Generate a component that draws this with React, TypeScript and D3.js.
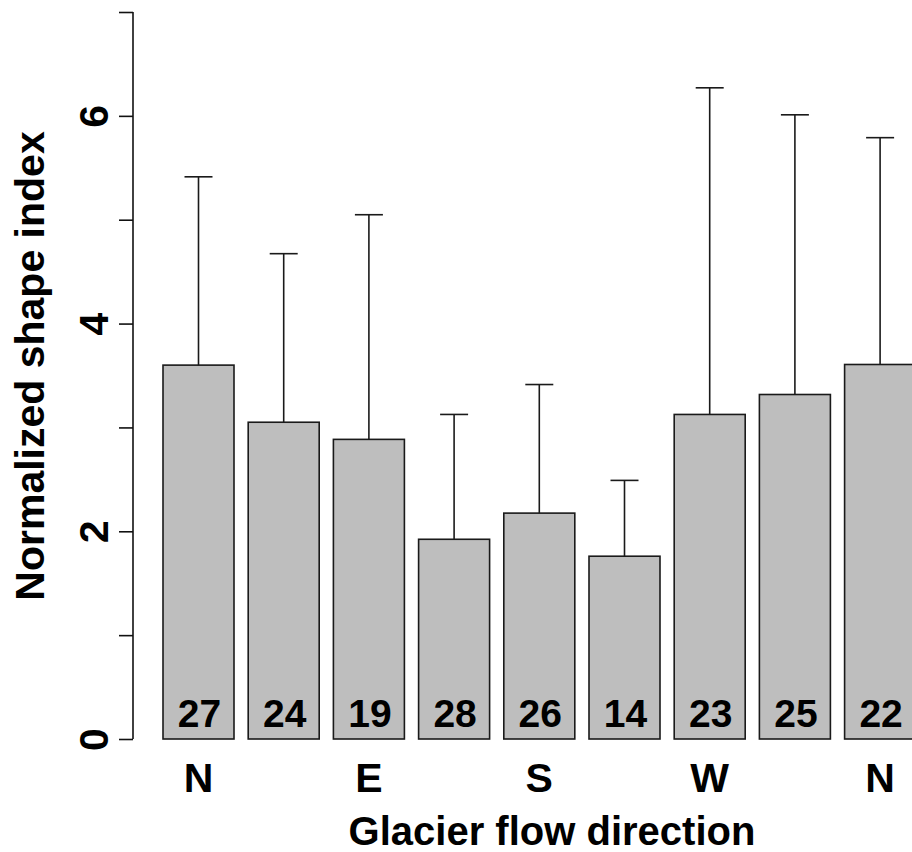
import React, { useEffect, useRef } from 'react';
import { scaleLinear, axisLeft, select, range } from 'd3';

// glacier flow direction sectors (N .. N, going round)
const sectors = ['N', 'NE', 'E', 'SE', 'S', 'SW', 'W', 'NW', 'N2'];
const axisLabels = ['N', '', 'E', '', 'S', '', 'W', '', 'N'];
const meanIndex = [3.6, 3.05, 2.885, 1.923, 2.175, 1.76, 3.125, 3.317, 3.606];
const upperError = [5.413, 4.673, 5.048, 3.125, 3.413, 2.49, 6.27, 6.01, 5.79];
const counts = [27, 24, 19, 28, 26, 14, 23, 25, 22];
const yTicks = [0, 1, 2, 3, 4, 5, 6, 7];

const W = 912;
const H = 852;
const FONT = '"Liberation Sans", Arial, Helvetica, sans-serif';

export default function App() {
  const ref = useRef<SVGSVGElement | null>(null);

  useEffect(() => {
    const svg = select(ref.current);
    svg.selectAll('*').remove();

    // barplot style coordinates: bar i spans [0.2 + 1.2i, 1.2 + 1.2i]
    const x = scaleLinear().domain([0.2, 1.2]).range([163, 234]);
    const y = scaleLinear().domain([0, 7]).range([739, 12]);
    const left = (i: number) => 0.2 + 1.2 * i;
    const mid = (i: number) => left(i) + 0.5;

    // y axis
    const yAxis = axisLeft(y)
      .tickValues(yTicks)
      .tickSize(14)
      .tickPadding(12)
      .tickFormat((d: any) => (d % 2 === 0 && d < 7 ? String(d) : ''));

    const ga = svg.append('g').attr('transform', 'translate(133,0)').call(yAxis);
    ga.select('.domain').attr('d', `M0,${y(0)}V${y(7)}`).attr('stroke', '#111').attr('stroke-width', 1.6);
    ga.selectAll('.tick line').attr('stroke', '#111').attr('stroke-width', 1.6);
    ga.selectAll('.tick text')
      .attr('x', null)
      .attr('dy', null)
      .attr('transform', 'translate(-25,0) rotate(-90)')
      .attr('text-anchor', 'middle')
      .attr('font-family', FONT)
      .attr('font-weight', 'bold')
      .attr('font-size', 41)
      .attr('fill', '#000');

    // bars
    svg.append('g')
      .selectAll('rect')
      .data(meanIndex)
      .enter()
      .append('rect')
      .attr('x', (_, i) => x(left(i)))
      .attr('y', (d) => y(d))
      .attr('width', x(1.2) - x(0.2))
      .attr('height', (d) => y(0) - y(d))
      .attr('fill', '#bebebe')
      .attr('stroke', '#1a1a1a')
      .attr('stroke-width', 1.6);

    // error bars (upper only)
    const capHalf = 14;
    const eb = svg.append('g').attr('stroke', '#1a1a1a').attr('stroke-width', 1.6);
    eb.selectAll('line.v')
      .data(upperError)
      .enter()
      .append('line')
      .attr('class', 'v')
      .attr('x1', (_, i) => x(mid(i)))
      .attr('x2', (_, i) => x(mid(i)))
      .attr('y1', (_, i) => y(meanIndex[i]))
      .attr('y2', (d) => y(d));
    eb.selectAll('line.c')
      .data(upperError)
      .enter()
      .append('line')
      .attr('class', 'c')
      .attr('x1', (_, i) => x(mid(i)) - capHalf)
      .attr('x2', (_, i) => x(mid(i)) + capHalf)
      .attr('y1', (d) => y(d))
      .attr('y2', (d) => y(d));

    // sample counts inside bars
    svg.append('g')
      .selectAll('text')
      .data(counts)
      .enter()
      .append('text')
      .attr('x', (_, i) => x(mid(i)) + 1)
      .attr('y', 727)
      .attr('text-anchor', 'middle')
      .attr('font-family', FONT)
      .attr('font-weight', 'bold')
      .attr('font-size', 39)
      .text((d) => d);

    // x direction labels
    svg.append('g')
      .selectAll('text')
      .data(range(sectors.length))
      .enter()
      .append('text')
      .attr('x', (i) => x(mid(i)))
      .attr('y', 792)
      .attr('text-anchor', 'middle')
      .attr('font-family', FONT)
      .attr('font-weight', 'bold')
      .attr('font-size', 41)
      .text((i) => axisLabels[i]);

    // axis titles
    svg.append('text')
      .attr('x', 552)
      .attr('y', 845)
      .attr('text-anchor', 'middle')
      .attr('font-family', FONT)
      .attr('font-weight', 'bold')
      .attr('font-size', 40)
      .text('Glacier flow direction');

    svg.append('text')
      .attr('transform', `translate(44,${366}) rotate(-90)`)
      .attr('text-anchor', 'middle')
      .attr('font-family', FONT)
      .attr('font-weight', 'bold')
      .attr('font-size', 41)
      .text('Normalized shape index');
  }, []);

  return (
    <svg
      ref={ref}
      width={W}
      height={H}
      style={{ position: 'absolute', left: 0, top: 0, background: '#fff' }}
    />
  );
}
